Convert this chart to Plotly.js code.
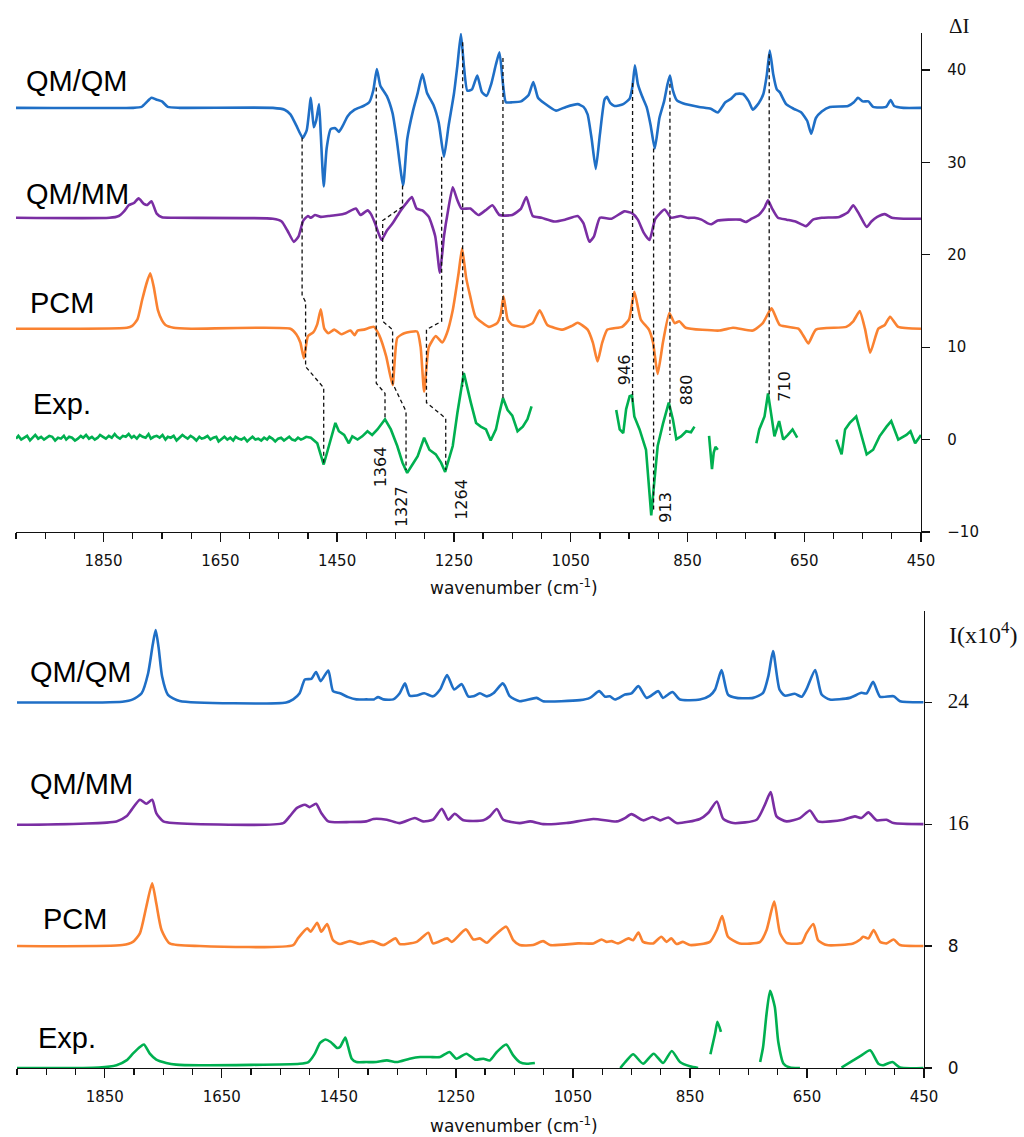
<!DOCTYPE html>
<html>
<head>
<meta charset="utf-8">
<script src="https://cdn.plot.ly/plotly-3.0.1.min.js"></script>
<style>html,body{margin:0;padding:0;background:#fff;}#chart{width:1024px;height:1137px;}</style>
</head>
<body>
<div id="chart"></div>
<script>
// ---------- TOP PANEL (ΔI) ----------
var topQMQM_wn = [2000,1800,1785,1775,1768,1760,1750,1740,1720,1560,1540,1530,1520,1509,1502,1495,1490,1486,1481,1478,1473,1468,1461,1453,1447,1440,1432,1420,1405,1395,1388,1382,1376,1365,1355,1348,1337,1330,1320,1312,1304,1296,1285,1276,1267,1259,1250,1244,1238,1233,1227,1219,1210,1202,1194,1186,1178,1172,1166,1161,1150,1135,1122,1114,1106,1095,1075,1058,1038,1028,1021,1014,1007,1000,992,988,982,975,960,949,944,940,935,928,920,913,906,898,890,884,880,875,868,858,830,810,798,785,775,767,755,745,738,728,720,714,709,703,697,692,681,668,655,645,638,630,620,606,575,565,558,550,540,532,510,502,496,480,450];
var topQMQM_I  = [35.9,35.9,36.0,36.6,37.0,36.8,36.6,36.0,35.9,35.9,35.7,35.2,34.0,32.65,33.5,37.0,33.8,34.5,36.3,33.0,27.4,31.5,33.6,33.7,33.3,34.0,35.0,35.7,36.1,36.5,37.8,40.1,38.3,37.2,35.3,32.5,27.5,32.5,35.6,37.5,39.55,37.5,36.2,34.3,30.6,34.0,37.4,40.5,43.9,40.5,37.75,37.9,39.4,37.6,37.2,38.5,40.6,41.9,38.5,36.5,36.5,36.6,37.3,38.7,37.0,36.4,35.6,36.0,36.3,36.0,35.2,32.5,29.3,33.0,36.8,37.1,36.4,36.1,36.3,36.9,38.3,40.5,38.5,37.2,36.0,34.0,31.5,34.8,36.6,38.5,39.4,37.8,36.7,36.4,36.0,35.8,35.4,36.5,36.9,37.4,37.4,36.6,35.7,36.4,37.4,39.5,42.1,39.5,37.9,37.6,36.3,35.8,35.4,34.5,33.1,34.8,35.5,36.0,36.1,36.5,37.0,36.6,36.6,36.0,36.0,36.75,36.1,35.9,35.9];

var topQMMM_wn = [2000,1840,1824,1815,1807,1798,1790,1781,1775,1768,1759,1750,1730,1560,1545,1535,1524,1516,1508,1500,1495,1488,1478,1465,1450,1435,1418,1410,1398,1392,1385,1374,1365,1355,1341,1330,1322,1314,1304,1293,1282,1274,1267,1260,1252,1244,1237,1222,1208,1196,1184,1172,1150,1135,1126,1115,1100,1078,1060,1038,1028,1018,1010,1000,980,958,945,935,925,915,905,889,878,862,850,838,826,815,809,798,780,760,750,740,728,718,712,705,695,680,665,647,635,620,590,575,566,556,543,535,525,512,500,480,450];
var topQMMM_I  = [24.0,24.0,24.2,24.7,25.35,25.6,26.1,25.5,25.4,25.8,24.45,24.05,24.0,23.9,23.6,22.6,21.4,22.0,23.7,24.2,24.0,24.3,24.1,24.2,24.3,24.5,25.0,24.3,24.8,24.4,23.4,21.6,22.6,23.4,24.8,25.7,26.25,25.0,24.8,24.1,22.0,18.05,22.0,24.8,27.3,25.9,25.0,25.0,24.3,24.8,25.35,24.3,24.3,25.0,26.25,24.2,24.0,23.6,23.8,24.2,23.4,21.4,22.0,24.0,23.9,24.7,24.5,23.8,22.4,21.6,23.9,24.9,24.0,24.2,24.0,24.0,23.8,23.4,23.3,23.7,23.8,23.8,23.55,23.9,24.3,25.1,25.9,25.0,24.0,23.8,23.6,23.1,23.8,24.0,24.1,24.6,25.35,24.4,23.0,23.6,24.1,24.4,24.0,23.9,23.9];

var topPCM_wn = [2000,1810,1801,1792,1784,1776,1770,1764,1757,1750,1744,1730,1700,1530,1520,1513,1507,1500,1491,1484,1478,1472,1465,1455,1443,1435,1427,1420,1415,1404,1387,1378,1366,1355,1347,1335,1313,1307,1301,1293,1281,1270,1262,1252,1242,1236,1229,1222,1213,1190,1176,1170,1165,1158,1150,1130,1115,1103,1090,1064,1048,1038,1021,1012,1004,996,987,962,950,941,930,916,909,901,892,881,872,864,853,795,772,738,721,706,692,660,652,643,630,578,566,555,546,537,523,512,503,489,450];
var topPCM_I  = [12.0,12.1,12.3,13.0,15.1,17.0,18.0,16.5,14.0,12.9,12.4,12.1,12.0,12.0,11.4,10.5,8.8,11.2,11.6,12.5,14.1,12.0,11.5,11.9,11.4,11.6,11.8,11.3,11.8,11.9,12.2,11.3,9.0,5.9,11.0,11.5,11.7,10.0,5.2,10.0,11.2,10.5,11.5,14.0,18.0,20.7,17.5,15.5,13.3,12.2,12.6,13.5,15.5,13.0,12.4,12.2,12.6,14.0,12.4,11.9,12.3,12.65,11.9,10.5,8.45,10.5,11.9,12.2,13.0,16.0,13.0,11.9,10.5,7.1,10.5,13.7,12.6,12.8,12.1,11.8,12.1,11.8,12.6,14.2,12.4,12.0,11.3,10.4,11.9,12.2,12.8,13.9,12.0,9.4,12.0,12.4,13.3,12.2,12.0];

// experimental difference spectrum, null = gap in the recorded trace
var topExp_wn = [2000,1996,1991,1986,1981,1976,1972,1967,1962,1957,1952,1947,1943,1938,1933,1928,1923,1918,1914,1909,1904,1899,1894,1889,1885,1880,1875,1870,1865,1860,1856,1851,1846,1841,1836,1831,1827,1822,1817,1812,1807,1802,1798,1793,1788,1783,1778,1773,1769,1764,1759,1754,1749,1744,1740,1735,1730,1725,1720,1715,1711,1706,1701,1696,1691,1686,1682,1677,1672,1667,1662,1657,1653,1648,1643,1638,1633,1628,1624,1619,1614,1609,1604,1599,1595,1590,1585,1580,1575,1570,1566,1561,1556,1551,1546,1541,1537,1532,1527,1522,1517,1512,1508,1503,
  1495,1484,1473,1464,1453,1447,1438,1430,1424,1415,1407,1398,1390,1381,1368,1358,1347,1338,1330,1321,1312,1301,1292,1281,1272,1265,1252,1244,1233,1221,1212,1204,1195,1187,1178,1172,1166,1158,1150,1141,1132,1124,1117,1110,
  972,966,960,955,949,945,941,932,921,915,912,908,901,892,882,875,869,861,852,844,838,830,
  813,811,808,805,802,798,790,
  732,727,718,712,706,701,693,686,678,670,662,650,
  595,586,580,572,561,552,543,532,521,509,501,489,475,468,460,450];
var topExp_I = [0.1,0.4,0.0,0.2,0.4,-0.1,0.2,0.5,0.1,0.3,0.0,0.2,0.4,0.3,-0.1,0.2,0.1,0.4,0.0,0.3,0.2,-0.1,0.1,0.4,0.2,0.5,0.1,0.3,0.0,0.2,0.5,0.3,0.1,0.4,0.2,0.6,0.3,0.1,0.4,0.3,0.6,0.2,0.4,0.1,0.5,0.3,0.2,0.6,0.1,0.3,0.4,0.2,0.5,0.0,0.3,0.2,0.4,-0.1,0.2,0.5,0.3,0.1,0.4,0.2,-0.1,0.3,0.1,0.2,0.4,0.0,0.2,0.3,-0.2,0.1,0.3,0.0,0.2,-0.1,0.3,0.1,0.0,0.2,-0.2,0.1,0.3,0.0,0.1,-0.1,0.2,0.0,0.3,0.1,-0.2,0.1,0.2,-0.1,0.1,0.3,0.0,-0.1,0.2,0.0,0.1,0.3,
  0.2,-0.4,-2.7,-0.7,1.8,0.9,0.5,-0.4,0.35,0.0,0.35,0.9,0.5,1.1,2.2,1.1,-0.7,-2.5,-3.6,-2.7,-1.8,0.2,-1.1,-1.6,-2.5,-3.5,-0.7,2.9,7.2,4.0,1.8,1.4,1.1,-0.1,1.1,2.9,4.5,3.2,2.6,0.9,1.4,2.2,3.6,null,
  3.2,1.1,0.7,3.3,4.7,4.8,2.5,1.1,-1.1,-5.4,-8.2,-5.4,-0.7,1.7,4.0,2.2,0.05,0.35,0.9,0.8,1.4,null,
  0.4,-1.1,-3.2,-1.4,-0.8,-1.1,null,
  -0.4,1.1,2.5,5.0,2.5,0.35,2.0,0.0,0.5,1.1,0.2,null,
  0.0,-1.6,1.1,1.8,2.5,0.35,-1.6,-1.1,0.35,1.4,2.0,0.0,0.5,0.9,-0.4,0.5];

// dashed correlation lines (peak positions, cm-1 / ΔI)
var linkA_wn = [1510,1510,1504,1504,1473,1473], linkA_I = [32.7,15.6,14.9,7.9,5.6,-2.5];
var linkB_wn = [1383,1383,1368,1368],           linkB_I = [38.1,6.1,5.0,2.2];
var linkC_wn = [1338,1338,1372,1372,1355,1355,1332,1332], linkC_I = [27.5,25.2,23.7,12.8,11.9,6.1,3.05,-3.3];
var linkD_wn = [1271,1271,1297,1297,1264,1264], linkD_I = [30.6,12.8,11.9,4.0,2.3,-3.3];
var linkE_wn = [1235,1235], linkE_I = [43.0,5.75];
var linkF_wn = [1166,1166], linkF_I = [41.3,4.3];
var linkG_wn = [944,944],   linkG_I = [38.6,3.8];
var linkH_wn = [908,908],   linkH_I = [31.5,-7.9];
var linkI_wn = [880,880],   linkI_I = [38.5,0.5];
var linkJ_wn = [710,710],   linkJ_I = [41.7,4.7];

// rotated peak labels of the experimental trace
var peakLabels = ['1364','1327','1264','946','880','710','913'];
var peakLabel_wn = [1376.5,1340.5,1237.5,958,851.6,683.4,889];
var peakLabel_I  = [-3.0,-7.3,-6.5,7.55,5.4,5.8,-7.3];

// ---------- BOTTOM PANEL (I x10^4) ----------
var botQMQM_wn = [2000,1820,1802,1787,1776,1768,1763,1758,1752,1742,1722,1540,1528,1517,1508,1497,1489,1481,1468,1460,1448,1434,1420,1403,1390,1383,1374,1357,1346,1337,1329,1317,1304,1289,1277,1265,1253,1240,1229,1220,1209,1197,1186,1170,1166,1158,1141,1112,1101,1038,1021,1005,995,987,978,961,950,938,924,904,896,880,867,833,816,807,796,785,770,742,725,716,708,697,688,671,659,651,636,625,611,577,557,548,537,525,502,491,451];
var botQMQM_I  = [24.0,24.05,24.2,24.6,25.9,27.8,28.75,27.6,25.7,24.5,24.1,24.0,24.2,24.6,25.5,25.55,26.0,25.4,26.1,24.75,24.6,24.35,24.2,24.2,24.2,24.35,24.2,24.2,24.6,25.25,24.45,24.45,24.6,24.4,24.85,25.8,24.85,25.2,24.4,24.4,24.6,24.4,24.6,25.25,25.07,24.41,24.08,24.3,24.08,24.15,24.3,24.74,24.37,24.41,24.19,24.52,24.59,25.07,24.3,24.74,24.3,24.68,24.19,24.19,24.45,24.85,26.12,24.52,24.3,24.3,24.63,25.73,27.37,24.85,24.45,24.57,24.37,24.85,26.12,24.52,24.19,24.3,24.63,24.59,25.35,24.37,24.41,24.08,24.01];

var botQMMM_wn = [2000,1830,1813,1804,1790,1779,1769,1762,1750,1733,1545,1534,1522,1508,1500,1489,1480,1468,1431,1403,1391,1368,1346,1320,1306,1289,1274,1263,1252,1237,1203,1192,1180,1169,1141,1123,1101,1061,1015,975,961,950,930,914,901,887,873,833,819,804,793,776,736,722,712,702,685,662,645,631,588,568,557,545,531,514,502,451];
var botQMMM_I  = [15.97,16.19,16.52,16.96,17.61,17.35,17.61,16.74,16.19,16.08,16.08,16.52,17.06,17.28,17.13,17.35,16.74,16.19,16.15,16.19,16.35,16.3,16.08,16.41,16.19,16.3,17.02,16.3,16.69,16.26,16.26,16.52,17.0,16.3,16.08,16.19,16.01,16.08,16.35,16.19,16.41,16.67,16.26,16.48,16.26,16.45,16.08,16.35,16.74,17.5,16.35,16.08,16.3,17.28,18.11,16.52,16.19,16.41,16.91,16.19,16.3,16.52,16.41,16.78,16.26,16.3,16.08,16.01];

var botPCM_wn = [2000,1820,1802,1790,1779,1769,1762,1753,1739,1688,1528,1520,1504,1498,1487,1480,1470,1460,1448,1431,1414,1393,1374,1353,1346,1317,1297,1289,1265,1257,1233,1220,1209,1197,1186,1164,1152,1141,1118,1101,1089,1041,1015,1001,992,984,973,955,947,938,930,913,899,890,882,873,862,850,816,804,795,785,765,730,719,706,696,685,659,651,639,631,616,571,559,554,545,536,525,514,502,491,451];
var botPCM_I  = [8.01,8.07,8.28,8.84,10.59,12.13,10.81,9.06,8.18,8.01,8.07,8.51,9.17,8.95,9.54,8.95,9.45,8.39,8.14,8.33,8.14,8.33,8.07,8.51,8.14,8.28,8.88,8.18,8.51,8.28,9.1,8.44,8.51,8.22,8.62,9.28,8.39,8.07,8.07,8.33,8.07,8.18,8.18,8.44,8.28,8.33,8.18,8.51,8.39,8.9,8.28,8.18,8.62,8.28,8.51,8.14,8.28,8.07,8.28,9.06,9.98,8.62,8.18,8.28,9.06,10.92,8.84,8.22,8.22,8.84,9.45,8.39,8.07,8.18,8.44,8.62,8.51,9.06,8.28,8.18,8.44,8.07,8.01];

var botExp_wn = [2000,1860,1830,1813,1802,1790,1783,1773,1762,1745,1728,1688,1517,1502,1491,1482,1473,1464,1453,1448,1439,1434,1428,1420,1403,1386,1368,1351,1329,1311,1294,1277,1261,1249,1232,1217,1203,1192,1180,1164,1152,1141,1129,1115,1110,
  969,958,947,930,912,896,881,867,850,836,830,
  815,807,803,797,790,
  730,725,719,713,705,699,690,679,662,650,
  591,571,557,542,528,520,504,491,451];
var botExp_I  = [0.0,0.03,0.18,0.5,0.94,1.38,1.54,0.94,0.55,0.33,0.22,0.18,0.28,0.39,0.94,1.65,1.87,1.71,1.32,1.38,2.0,1.38,0.61,0.39,0.39,0.39,0.5,0.39,0.61,0.72,0.72,0.72,1.05,0.61,0.94,0.55,0.61,0.5,1.05,1.54,0.83,0.39,0.28,0.33,null,
  0.0,0.5,0.9,0.28,0.94,0.33,1.12,0.39,0.11,0.0,null,
  0.9,2.26,3.03,2.37,null,
  0.39,1.38,3.58,5.07,4.02,1.71,0.28,0.03,0.0,null,
  0.03,0.5,0.83,1.16,0.28,0.18,0.39,0.03,0.0];

var seriesNames = ['QM/QM','QM/MM','PCM','Exp.'];
var seriesColors = ['#1f6fc6','#7a2ea3','#fa8231','#00b050'];
var botTickVals = [0,8,16,24];

// ---------- build ----------
var traces = [];
function curve(x, y, color, xa, ya, name, smooth) {
  var line = {color:color, width:2.6};
  if (smooth) { line.shape = 'spline'; line.smoothing = smooth; }
  traces.push({type:'scatter', mode:'lines', x:x, y:y, xaxis:xa, yaxis:ya, name:name,
    connectgaps:false, line:line, hoverinfo:'skip', showlegend:false});
}
function dashed(x, y) {
  traces.push({type:'scatter', mode:'lines', x:x, y:y, xaxis:'x', yaxis:'y',
    line:{color:'#111', width:1.3, dash:'4px,3px'}, hoverinfo:'skip', showlegend:false});
}
curve(topQMQM_wn, topQMQM_I, seriesColors[0], 'x', 'y', seriesNames[0], 0.5);
curve(topQMMM_wn, topQMMM_I, seriesColors[1], 'x', 'y', seriesNames[1], 0.5);
curve(topPCM_wn,  topPCM_I,  seriesColors[2], 'x', 'y', seriesNames[2], 0.5);
curve(topExp_wn,  topExp_I,  seriesColors[3], 'x', 'y', seriesNames[3], 0);
[[linkA_wn,linkA_I],[linkB_wn,linkB_I],[linkC_wn,linkC_I],[linkD_wn,linkD_I],[linkE_wn,linkE_I],
 [linkF_wn,linkF_I],[linkG_wn,linkG_I],[linkH_wn,linkH_I],[linkI_wn,linkI_I],[linkJ_wn,linkJ_I]].forEach(function(l){dashed(l[0], l[1]);});
curve(botQMQM_wn, botQMQM_I, seriesColors[0], 'x2', 'y2', seriesNames[0], 0.6);
curve(botQMMM_wn, botQMMM_I, seriesColors[1], 'x2', 'y2', seriesNames[1], 0.6);
curve(botPCM_wn,  botPCM_I,  seriesColors[2], 'x2', 'y2', seriesNames[2], 0.6);
curve(botExp_wn,  botExp_I,  seriesColors[3], 'x2', 'y2', seriesNames[3], 0.6);

var tickFont = {family:'DejaVu Sans, Verdana, sans-serif', size:15, color:'#111'};
var labelFont = {family:'Liberation Sans, Arial, sans-serif', size:29, color:'#000'};
var ann = [];
var topLabelPos = [[1987,38.8],[1987,26.6],[1980,14.8],[1974,3.9]];
var botLabelPos = [[1982,26.0],[1982,18.65],[1959,9.8],[1967,2.0]];
seriesNames.forEach(function(n,i){
  ann.push({text:n, x:topLabelPos[i][0], y:topLabelPos[i][1], xref:'x', yref:'y', xanchor:'left', yanchor:'middle', showarrow:false, font:labelFont});
  ann.push({text:n, x:botLabelPos[i][0], y:botLabelPos[i][1], xref:'x2', yref:'y2', xanchor:'left', yanchor:'middle', showarrow:false, font:labelFont});
});
peakLabels.forEach(function(t,i){
  ann.push({text:t, x:peakLabel_wn[i], y:peakLabel_I[i], xref:'x', yref:'y', textangle:-90, showarrow:false,
    xanchor:'center', yanchor:'middle', font:{family:'DejaVu Sans, Verdana, sans-serif', size:16, color:'#111'}});
});
var titleFont = {family:'DejaVu Sans, Verdana, sans-serif', size:17, color:'#111'};
ann.push({text:'wavenumber (cm<sup>-1</sup>)', xref:'paper', yref:'paper', x:0.548, y:0.4647, xanchor:'center', yanchor:'middle', showarrow:false, font:titleFont});
ann.push({text:'wavenumber (cm<sup>-1</sup>)', xref:'paper', yref:'paper', x:0.548, y:-0.0551, xanchor:'center', yanchor:'middle', showarrow:false, font:titleFont});
ann.push({text:'ΔI', xref:'paper', yref:'paper', x:1.0396, y:1.0068, xanchor:'center', yanchor:'middle', showarrow:false, font:{family:'Liberation Serif, Times New Roman, serif', size:21, color:'#111'}});
ann.push({text:'I(x10<sup>4</sup>)', xref:'paper', yref:'paper', x:1.065, y:0.4203, xanchor:'center', yanchor:'middle', showarrow:false, font:{family:'Liberation Serif, Times New Roman, serif', size:24, color:'#111'}});

function xAxis(domain, anchor) {
  return {domain:domain, anchor:anchor, range:[2000,450], tickmode:'linear', tick0:50, dtick:200,
    ticks:'outside', ticklen:9, tickwidth:1.3, tickcolor:'#111', showline:true, linecolor:'#111', linewidth:1.3,
    showgrid:false, zeroline:false, tickfont:tickFont, ticklabelstandoff:6,
    minor:{dtick:50, ticks:'outside', ticklen:6, tickwidth:1.3, tickcolor:'#111', showgrid:false}};
}
var layout = {
  width:1024, height:1137, paper_bgcolor:'#fff', plot_bgcolor:'#fff',
  margin:{l:16, r:100, t:33, b:69}, showlegend:false,
  xaxis: xAxis([0,0.9967], 'y'),
  xaxis2: xAxis([0.0011,1], 'y2'),
  yaxis: {domain:[0.5179,1], anchor:'x', side:'right', range:[-10,44], tickmode:'linear', tick0:0, dtick:10,
    ticks:'outside', ticklen:8, tickwidth:1.3, tickcolor:'#111', showline:true, linecolor:'#111', linewidth:1.3,
    showgrid:false, zeroline:false, tickfont:tickFont, ticklabelstandoff:14},
  yaxis2: {domain:[0,0.4415], anchor:'x2', side:'right', range:[0,30], tickmode:'array', tickvals:botTickVals,
    ticktext:['0','8','<span style="font-family:Liberation Serif, serif;font-size:21px">16</span>','<span style="font-family:Liberation Serif, serif;font-size:21px">24</span>'],
    ticks:'outside', ticklen:7, tickwidth:1.3, tickcolor:'#111', showline:true, linecolor:'#111', linewidth:1.3,
    showgrid:false, zeroline:false, tickfont:{family:'DejaVu Sans, Verdana, sans-serif', size:17, color:'#111'}, ticklabelstandoff:12},
  annotations: ann
};
Plotly.newPlot('chart', traces, layout, {staticPlot:true, displayModeBar:false});
</script>
</body>
</html>
